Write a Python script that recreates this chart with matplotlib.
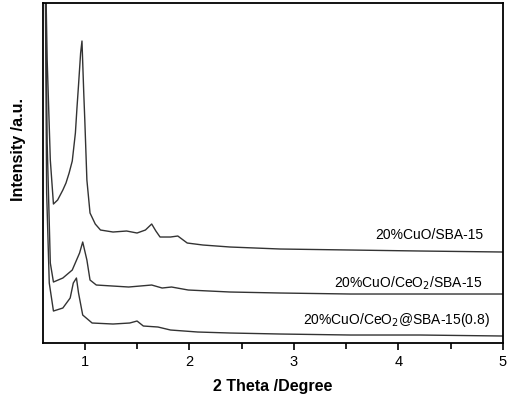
import matplotlib
matplotlib.use("Agg")
import matplotlib.pyplot as plt
from matplotlib.ticker import MultipleLocator

plt.rcParams['font.family'] = ['Liberation Sans', 'DejaVu Sans']

# 20%CuO/SBA-15
theta_a = [0.62, 0.64, 0.67, 0.70, 0.74, 0.79, 0.82, 0.85, 0.88, 0.91, 0.925, 0.94, 0.96, 0.973,
           0.99, 1.00, 1.02, 1.05, 1.10, 1.15, 1.27, 1.40, 1.50, 1.58, 1.64, 1.68, 1.72,
           1.82, 1.89, 1.98, 2.13, 2.39, 2.87, 3.54, 4.21, 5.0]
int_a = [400, 283, 183, 139, 143, 153, 160, 170, 182, 210, 235, 258, 290, 302,
         250, 223, 163, 130, 119, 113, 111, 112, 110, 113, 119, 112, 106,
         106, 107, 100, 98, 96, 94, 93, 92, 91]

# 20%CuO/CeO2/SBA-15
theta_b = [0.62, 0.64, 0.67, 0.70, 0.79, 0.88, 0.95, 0.98, 1.02, 1.05, 1.11,
           1.42, 1.64, 1.74, 1.83, 1.99, 2.39, 2.87, 3.54, 4.21, 5.0]
int_b = [400, 200, 80, 61, 65, 73, 90, 101, 83, 63, 58,
         56, 58, 55, 56, 53, 51, 50, 49, 49, 49]

# 20%CuO/CeO2@SBA-15(0.8)
theta_c = [0.62, 0.635, 0.66, 0.70, 0.79, 0.86, 0.89, 0.92, 0.94, 0.98, 1.07,
           1.27, 1.43, 1.50, 1.56, 1.70, 1.82, 2.08, 2.39, 2.87, 3.54, 4.21, 5.0]
int_c = [400, 150, 60, 32, 35, 45, 60, 65, 50, 28, 20,
         19, 20, 22, 17, 16, 13, 11, 10, 9, 8, 8, 7]

labels = ['20%CuO/SBA-15', '20%CuO/CeO$_2$/SBA-15', '20%CuO/CeO$_2$@SBA-15(0.8)']
label_pos = [(4.81, 108), (4.81, 60), (4.88, 23)]

fig = plt.figure(figsize=(5.1, 3.96), dpi=100)
ax = fig.add_axes([0.0843, 0.1338, 0.9017, 0.8586])

for th, inten in [(theta_a, int_a), (theta_b, int_b), (theta_c, int_c)]:
    ax.plot(th, inten, color='#333333', lw=1.0)

for lab, (x, y) in zip(labels, label_pos):
    ax.text(x, y, lab, ha='right', va='center', fontsize=10)

ax.set_xlim(0.6, 5)
ax.set_ylim(0, 340)
ax.xaxis.set_major_locator(MultipleLocator(1))
ax.xaxis.set_minor_locator(MultipleLocator(0.5))
ax.tick_params(axis='x', which='major', direction='out', length=5, width=1.2, labelsize=10.5)
ax.tick_params(axis='x', which='minor', direction='out', length=4, width=1.2)
ax.set_yticks([])
for s in ax.spines.values():
    s.set_linewidth(1.3)

ax.set_xlabel('2 Theta /Degree', fontsize=11.5, fontweight='bold', labelpad=7)
ax.set_ylabel('Intensity /a.u.', fontsize=11.5, fontweight='bold')
ax.yaxis.set_label_coords(-0.036, 0.57)

fig.savefig('out.png', dpi=100)
